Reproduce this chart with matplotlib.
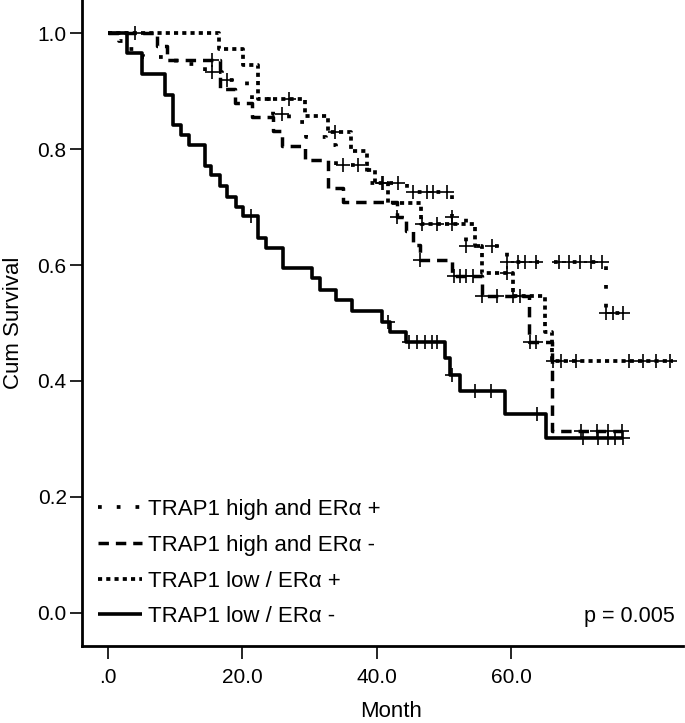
import matplotlib
matplotlib.use("Agg")
import matplotlib.pyplot as plt
import numpy as np

plt.rcParams['font.family'] = ['Liberation Sans', 'DejaVu Sans']

# TRAP1 high and ERa +  (sparse dots)
hp_t = [0, 1.7, 2.4, 5.3, 10.1, 14.5, 17.0, 20.7, 21.5, 24.5, 27.0, 29.5, 32.5, 34.0,
        38.5, 44.5, 51.1, 53.3, 59.3, 74.1]
hp_s = [1.0, 0.987, 0.972, 0.959, 0.947, 0.932, 0.919, 0.905, 0.886, 0.860, 0.847, 0.820,
        0.807, 0.772, 0.742, 0.726, 0.683, 0.632, 0.606, 0.517]
hp_end = 76.6
hp_cens = [15.5, 17.7, 25.9, 35.0, 37.2, 40.7, 43.2, 45.4, 47.4, 48.4, 50.4, 51.1, 53.3, 57.1,
           59.3, 61.0, 62.0, 63.7, 67.0, 68.5, 70.2, 71.8, 73.4, 74.1, 75.1, 76.6]

# TRAP1 high and ERa -  (dashes)
hn_t = [0, 7.3, 8.8, 16.7, 18.9, 21.4, 24.6, 25.9, 29.3, 32.8, 35.0, 43.0, 44.3, 45.4,
        46.4, 51.1, 55.7, 62.6, 66.1]
hn_s = [1.0, 0.977, 0.953, 0.904, 0.880, 0.856, 0.831, 0.805, 0.781, 0.732, 0.708, 0.683,
        0.659, 0.634, 0.609, 0.581, 0.547, 0.468, 0.313]
hn_end = 76.4
hn_cens = [4.0, 15.5, 43.0, 46.4, 51.4, 52.4, 53.3, 54.3, 55.7, 57.8, 60.3, 61.3, 62.7, 63.7,
           70.4, 72.7, 74.4, 76.4]

# TRAP1 low / ERa +  (dense dots)
lp_t = [0, 16.6, 20.1, 22.4, 29.3, 32.8, 36.2, 38.5, 39.7, 41.7, 46.5, 54.6, 55.7, 60.2,
        65.0, 66.1]
lp_s = [1.0, 0.972, 0.945, 0.886, 0.857, 0.830, 0.797, 0.764, 0.742, 0.707, 0.671, 0.632,
        0.587, 0.547, 0.485, 0.434]
lp_end = 84.0
lp_cens = [26.9, 33.8, 40.9, 46.7, 48.9, 51.1, 59.3, 66.2, 67.3, 69.6, 77.5, 79.5, 81.5, 83.5]

# TRAP1 low / ERa -  (solid)
ln_t = [0, 2.8, 5.1, 8.5, 9.7, 10.9, 12.1, 14.5, 15.4, 16.7, 17.8, 19.0, 20.1, 22.4, 23.5,
        26.0, 30.4, 31.5, 33.9, 36.3, 40.7, 42.0, 44.3, 50.1, 50.9, 52.3, 59.0, 65.1]
ln_s = [1.0, 0.965, 0.930, 0.893, 0.841, 0.824, 0.807, 0.771, 0.755, 0.737, 0.718, 0.700,
        0.684, 0.646, 0.629, 0.594, 0.577, 0.557, 0.540, 0.521, 0.502, 0.485, 0.468, 0.439,
        0.410, 0.383, 0.343, 0.301]
ln_end = 76.6
ln_cens = [21.3, 41.7, 44.8, 46.0, 47.2, 48.2, 49.0, 51.1, 54.6, 56.9, 63.8, 70.7, 72.9,
           74.4, 75.4, 76.6]

labels = ["TRAP1 high and ER\u03b1 +", "TRAP1 high and ER\u03b1 -",
          "TRAP1 low / ER\u03b1 +", "TRAP1 low / ER\u03b1 -"]

fig = plt.figure(figsize=(6.85, 7.23), dpi=100)
ax = fig.add_axes([82/685, 77/723, 601/685, 646/723])


def km(t, s, end, cens, ls, lw):
    t = np.array(t + [end])
    s = np.array(s + [s[-1]])
    line, = ax.step(t, s, where='post', color='black', linestyle=ls, lw=lw,
                    solid_capstyle='butt', dash_capstyle='butt')
    c = np.array(cens)
    idx = np.searchsorted(t, c, side='right') - 1
    ax.plot(c, s[idx], '+', color='black', ms=10, mew=1.2)
    return line


h1 = km(hp_t, hp_s, hp_end, hp_cens, (0, (1, 4)), 2.7)
h2 = km(hn_t, hn_s, hn_end, hn_cens, (0, (3, 2)), 2.5)
h3 = km(lp_t, lp_s, lp_end, lp_cens, (0, (1.1, 1.1)), 2.7)
h4 = km(ln_t, ln_s, ln_end, ln_cens, '-', 2.6)

ax.set_xlim(-3.82, 85.5)
ax.set_ylim(-0.057, 1.057)
ax.spines['top'].set_visible(False)
ax.spines['right'].set_visible(False)
ax.spines['left'].set_linewidth(2)
ax.spines['bottom'].set_linewidth(2)

ax.set_xticks([0, 20, 40, 60])
ax.set_xticklabels([".0", "20.0", "40.0", "60.0"])
ax.set_yticks([0, 0.2, 0.4, 0.6, 0.8, 1.0])
ax.set_yticklabels(["0.0", "0.2", "0.4", "0.6", "0.8", "1.0"])
ax.tick_params(axis='both', labelsize=15, length=9, width=1.2, direction='out')
ax.tick_params(axis='x', pad=7)
ax.tick_params(axis='y', pad=2)

ax.set_xlabel("Month", fontsize=16, va='center')
ax.xaxis.set_label_coords(0.514, -0.102)
ax.set_ylabel("Cum Survival", fontsize=16, labelpad=10)

leg = ax.legend([h1, h2, h3, h4], labels, loc='lower left', frameon=False,
                fontsize=16, handlelength=2.0, handletextpad=0.25,
                labelspacing=0.66, bbox_to_anchor=(0.0, 0.005), borderaxespad=0.3)

ax.text(0.987, 0.045, "p = 0.005", transform=ax.transAxes, ha='right', va='center',
        fontsize=15.5)

fig.savefig("out.png", dpi=100)
